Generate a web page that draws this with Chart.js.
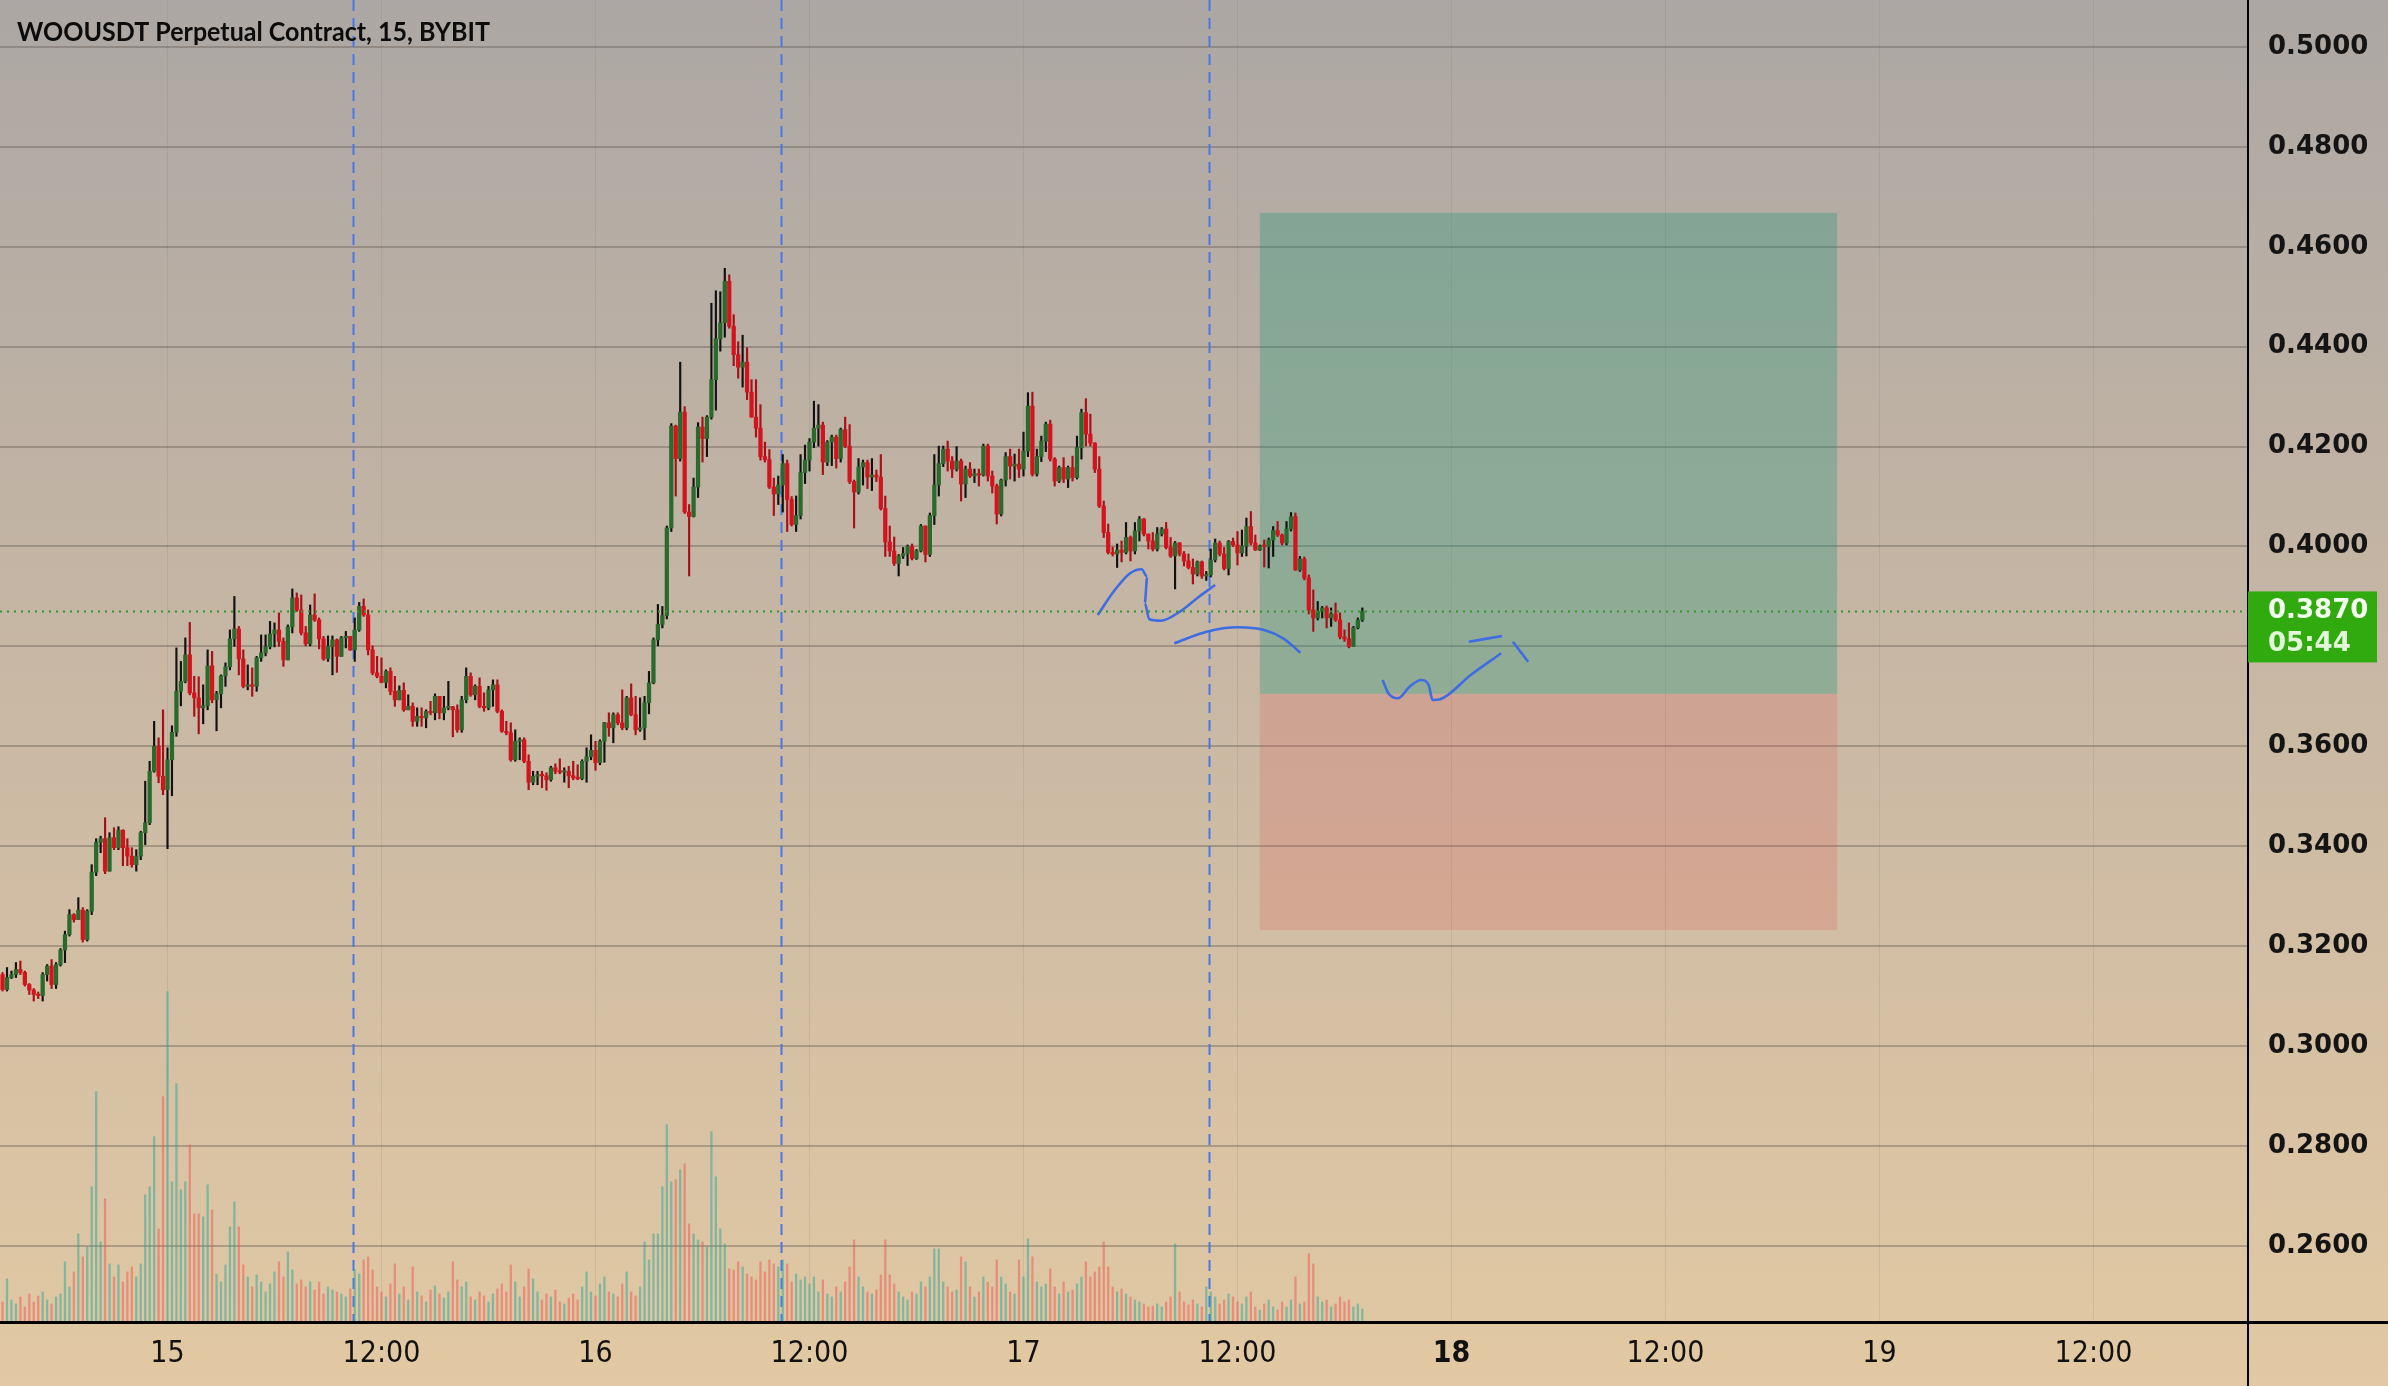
<!DOCTYPE html>
<html><head><meta charset="utf-8">
<script src="https://cdn.jsdelivr.net/npm/chart.js@4.4.1/dist/chart.umd.min.js"></script>
<style>html,body{margin:0;padding:0;background:#d2bea2;}canvas{display:block;}</style>
</head><body>
<canvas id="c" width="2388" height="1386"></canvas>
<script>
// ---------------- DATA ----------------
const chartTitle = 'WOOUSDT Perpetual Contract, 15, BYBIT';
const firstCandleHour = -9.25;   // 14th 14:45, hours relative to the 15th 00:00
const candleHours = 0.25;        // 15-minute candles
const firstOpen = 0.3143;
const closes = [
0.3113,0.3137,0.3143,0.3153,0.3147,0.3123,0.3112,0.3103,0.3101,0.3143,
0.3160,0.3123,0.3163,0.3192,0.3223,0.3263,0.3253,0.3272,0.3213,0.3270,
0.3348,0.3408,0.3415,0.3350,0.3417,0.3397,0.3432,0.3397,0.3380,0.3363,
0.3380,0.3427,0.3447,0.3550,0.3600,0.3540,0.3513,0.3573,0.3628,0.3710,
0.3730,0.3783,0.3707,0.3697,0.3677,0.3681,0.3761,0.3693,0.3705,0.3741,
0.3759,0.3815,0.3835,0.3775,0.3720,0.3723,0.3720,0.3777,0.3787,0.3799,
0.3825,0.3833,0.3810,0.3773,0.3839,0.3897,0.3873,0.3827,0.3805,0.3863,
0.3853,0.3815,0.3775,0.3800,0.3813,0.3780,0.3817,0.3820,0.3793,0.3833,
0.3880,0.3863,0.3793,0.3747,0.3740,0.3728,0.3750,0.3710,0.3693,0.3712,
0.3673,0.3680,0.3650,0.3660,0.3657,0.3670,0.3667,0.3700,0.3667,0.3677,
0.3679,0.3673,0.3633,0.3693,0.3740,0.3703,0.3720,0.3680,0.3677,0.3713,
0.3723,0.3670,0.3630,0.3627,0.3573,0.3610,0.3613,0.3570,0.3528,0.3540,
0.3542,0.3541,0.3533,0.3557,0.3550,0.3548,0.3550,0.3541,0.3537,0.3535,
0.3570,0.3579,0.3592,0.3567,0.3610,0.3647,0.3637,0.3663,0.3647,0.3637,
0.3697,0.3663,0.3633,0.3637,0.3687,0.3727,0.3813,0.3844,0.3862,0.4037,
0.4241,0.4176,0.4269,0.4069,0.4060,0.4119,0.4239,0.4216,0.4259,0.4334,
0.4416,0.4448,0.4531,0.4441,0.4384,0.4359,0.4369,0.4309,0.4259,0.4237,
0.4180,0.4174,0.4119,0.4105,0.4123,0.4166,0.4094,0.4044,0.4062,0.4148,
0.4173,0.4209,0.4237,0.4243,0.4169,0.4209,0.4219,0.4176,0.4234,0.4201,
0.4130,0.4109,0.4159,0.4168,0.4139,0.4143,0.4139,0.4076,0.4009,0.3991,
0.3966,0.3981,0.3986,0.4000,0.3976,0.3991,0.4041,0.3984,0.4062,0.4123,
0.4166,0.4195,0.4171,0.4155,0.4171,0.4125,0.4155,0.4141,0.4146,0.4143,
0.4201,0.4141,0.4121,0.4065,0.4133,0.4180,0.4161,0.4165,0.4155,0.4191,
0.4281,0.4145,0.4180,0.4211,0.4245,0.4175,0.4131,0.4158,0.4135,0.4158,
0.4138,0.4198,0.4268,0.4225,0.4207,0.4155,0.4081,0.4028,0.3988,0.3985,
0.3993,0.3988,0.4018,0.3991,0.4031,0.4055,0.4025,0.4011,0.3995,0.4025,
0.4035,0.3998,0.3981,0.4007,0.3985,0.3971,0.3958,0.3945,0.3969,0.3941,
0.3943,0.3973,0.4007,0.3985,0.3956,0.4010,0.4003,0.3987,0.4001,0.4040,
0.4007,0.3993,0.4001,0.4000,0.4013,0.4032,0.4023,0.4007,0.4035,0.4060,
0.3953,0.3975,0.3937,0.3873,0.3857,0.3870,0.3877,0.3857,0.3865,0.3853,
0.3819,0.3815,0.3800,0.3837,0.3853,0.3870];
const highs = [
0.3147,0.3157,0.3150,0.3167,0.3170,0.3150,0.3125,0.3115,0.3108,0.3147,
0.3163,0.3173,0.3167,0.3195,0.3230,0.3273,0.3265,0.3297,0.3277,0.3273,
0.3363,0.3415,0.3420,0.3457,0.3427,0.3437,0.3439,0.3433,0.3415,0.3397,
0.3393,0.3430,0.3530,0.3570,0.3650,0.3617,0.3673,0.3597,0.3641,0.3797,
0.3770,0.3817,0.3848,0.3740,0.3739,0.3723,0.3793,0.3790,0.3710,0.3743,
0.3767,0.3833,0.3900,0.3840,0.3793,0.3763,0.3757,0.3780,0.3823,0.3823,
0.3850,0.3847,0.3867,0.3817,0.3843,0.3915,0.3907,0.3903,0.3840,0.3883,
0.3905,0.3857,0.3820,0.3821,0.3821,0.3815,0.3820,0.3830,0.3820,0.3857,
0.3888,0.3895,0.3873,0.3801,0.3780,0.3777,0.3753,0.3757,0.3740,0.3721,
0.3727,0.3703,0.3687,0.3677,0.3677,0.3673,0.3690,0.3705,0.3700,0.3700,
0.3730,0.3680,0.3683,0.3700,0.3757,0.3747,0.3723,0.3737,0.3707,0.3720,
0.3733,0.3733,0.3673,0.3650,0.3647,0.3633,0.3617,0.3617,0.3583,0.3550,
0.3550,0.3550,0.3547,0.3560,0.3565,0.3575,0.3557,0.3560,0.3570,0.3563,
0.3573,0.3597,0.3623,0.3610,0.3613,0.3648,0.3667,0.3667,0.3667,0.3713,
0.3700,0.3725,0.3700,0.3697,0.3700,0.3750,0.3817,0.3884,0.3880,0.4041,
0.4246,0.4243,0.4369,0.4280,0.4084,0.4137,0.4248,0.4259,0.4262,0.4487,
0.4512,0.4510,0.4557,0.4544,0.4464,0.4410,0.4423,0.4398,0.4334,0.4334,
0.4284,0.4209,0.4194,0.4137,0.4141,0.4184,0.4173,0.4100,0.4101,0.4184,
0.4203,0.4216,0.4291,0.4284,0.4249,0.4212,0.4223,0.4223,0.4237,0.4259,
0.4244,0.4133,0.4176,0.4173,0.4173,0.4176,0.4153,0.4184,0.4101,0.4041,
0.4019,0.3984,0.3998,0.4003,0.4005,0.3994,0.4044,0.4039,0.4067,0.4184,
0.4201,0.4201,0.4211,0.4180,0.4200,0.4175,0.4161,0.4168,0.4155,0.4155,
0.4205,0.4205,0.4151,0.4125,0.4135,0.4188,0.4195,0.4185,0.4195,0.4229,
0.4308,0.4309,0.4195,0.4221,0.4249,0.4253,0.4178,0.4161,0.4178,0.4161,
0.4181,0.4221,0.4275,0.4296,0.4265,0.4208,0.4180,0.4091,0.4045,0.3999,
0.4005,0.4011,0.4048,0.4021,0.4048,0.4060,0.4056,0.4025,0.4028,0.4038,
0.4038,0.4048,0.4018,0.4010,0.4008,0.3990,0.3985,0.3975,0.3971,0.3971,
0.3950,0.3995,0.4015,0.4011,0.3998,0.4012,0.4017,0.4030,0.4033,0.4057,
0.4070,0.4023,0.4003,0.4013,0.4017,0.4040,0.4050,0.4025,0.4050,0.4068,
0.4067,0.3980,0.3979,0.3943,0.3913,0.3890,0.3880,0.3881,0.3877,0.3887,
0.3867,0.3833,0.3847,0.3840,0.3857,0.3877];
const lows = [
0.3110,0.3110,0.3135,0.3137,0.3143,0.3120,0.3103,0.3090,0.3095,0.3090,
0.3130,0.3115,0.3115,0.3160,0.3167,0.3220,0.3248,0.3253,0.3208,0.3210,
0.3263,0.3341,0.3387,0.3345,0.3350,0.3393,0.3393,0.3361,0.3361,0.3358,
0.3350,0.3373,0.3403,0.3443,0.3548,0.3527,0.3503,0.3395,0.3501,0.3620,
0.3681,0.3727,0.3703,0.3660,0.3625,0.3645,0.3673,0.3687,0.3631,0.3677,
0.3720,0.3753,0.3800,0.3743,0.3717,0.3713,0.3700,0.3710,0.3770,0.3781,
0.3795,0.3799,0.3800,0.3760,0.3773,0.3827,0.3870,0.3823,0.3801,0.3801,
0.3850,0.3795,0.3772,0.3770,0.3743,0.3748,0.3780,0.3797,0.3792,0.3770,
0.3830,0.3860,0.3783,0.3743,0.3737,0.3727,0.3717,0.3703,0.3680,0.3697,
0.3670,0.3673,0.3640,0.3640,0.3640,0.3637,0.3663,0.3653,0.3655,0.3653,
0.3673,0.3619,0.3628,0.3628,0.3687,0.3700,0.3693,0.3677,0.3670,0.3673,
0.3680,0.3667,0.3628,0.3623,0.3570,0.3570,0.3573,0.3567,0.3513,0.3523,
0.3523,0.3517,0.3512,0.3530,0.3545,0.3545,0.3528,0.3517,0.3533,0.3533,
0.3533,0.3528,0.3573,0.3552,0.3563,0.3568,0.3620,0.3607,0.3643,0.3633,
0.3633,0.3661,0.3623,0.3630,0.3613,0.3665,0.3725,0.3801,0.3837,0.3855,
0.4030,0.4101,0.4171,0.4066,0.3941,0.4059,0.4098,0.4169,0.4180,0.4255,
0.4273,0.4391,0.4419,0.4437,0.4362,0.4337,0.4319,0.4294,0.4259,0.4219,
0.4173,0.4169,0.4116,0.4062,0.4084,0.4069,0.4030,0.4041,0.4030,0.4055,
0.4126,0.4151,0.4198,0.4201,0.4144,0.4162,0.4162,0.4157,0.4169,0.4198,
0.4126,0.4037,0.4105,0.4123,0.4116,0.4112,0.4130,0.4073,0.3980,0.3980,
0.3962,0.3941,0.3976,0.3962,0.3973,0.3974,0.3989,0.3969,0.3980,0.4044,
0.4101,0.4160,0.4151,0.4138,0.4151,0.4091,0.4098,0.4138,0.4128,0.4121,
0.4141,0.4131,0.4107,0.4045,0.4061,0.4121,0.4135,0.4131,0.4138,0.4141,
0.4180,0.4141,0.4141,0.4170,0.4190,0.4171,0.4121,0.4128,0.4128,0.4118,
0.4131,0.4135,0.4175,0.4201,0.4201,0.4148,0.4078,0.4018,0.3985,0.3981,
0.3958,0.3969,0.3985,0.3971,0.3985,0.4011,0.4021,0.3995,0.3991,0.3991,
0.4021,0.3995,0.3978,0.3915,0.3981,0.3961,0.3955,0.3925,0.3941,0.3936,
0.3932,0.3939,0.3969,0.3981,0.3953,0.3943,0.4000,0.3963,0.3980,0.3981,
0.4003,0.3992,0.3992,0.3959,0.3957,0.3980,0.4020,0.4003,0.4003,0.4031,
0.3952,0.3950,0.3933,0.3865,0.3830,0.3853,0.3857,0.3837,0.3840,0.3850,
0.3815,0.3810,0.3797,0.3800,0.3835,0.3850];
const volumes = [ // thousands
20,43,22,18,25,15,28,20,26,30,
22,18,25,28,60,35,50,88,65,75,
135,230,80,123,58,45,57,40,50,55,
45,58,127,135,185,93,225,330,140,238,
132,140,177,108,108,105,137,112,48,40,
57,95,120,95,57,45,35,47,40,30,
38,50,60,45,70,52,38,42,35,40,
32,40,28,35,32,30,28,25,33,52,
48,62,65,52,35,30,25,38,58,28,
35,22,55,30,26,20,32,36,28,24,
30,60,42,35,40,25,22,30,26,20,
28,33,38,30,57,40,25,35,53,43,
30,22,28,25,32,20,18,24,28,22,
35,50,30,26,38,45,30,28,25,38,
50,30,26,35,80,62,88,88,135,197,
140,142,152,158,98,88,82,80,75,190,
145,93,78,53,52,60,55,48,45,42,
60,50,62,58,55,62,58,40,48,42,
45,38,45,30,42,28,25,35,30,40,
55,82,45,35,30,28,32,47,82,47,
38,30,25,22,30,28,40,35,45,73,
73,40,35,30,32,65,60,35,25,30,
45,40,35,62,45,38,30,28,62,45,
83,65,40,35,38,53,35,28,40,30,
32,38,45,60,45,50,55,80,55,35,
30,33,28,25,22,20,18,15,16,18,
15,20,25,78,30,20,17,22,18,15,
35,30,25,18,22,28,25,20,18,25,
30,15,12,18,22,15,12,20,15,22,
45,18,20,68,58,25,20,22,15,18,
25,20,22,15,18,13];
const xTickHours  = [0, 12, 24, 36, 48, 60, 72, 84, 96, 108];
const xTickLabels = ['15','12:00','16','12:00','17','12:00','18','12:00','19','12:00'];
const boldTickHour = 72;
const priceTicks = [0.26,0.28,0.30,0.32,0.34,0.36,0.38,0.40,0.42,0.44,0.46,0.48,0.50];
const priceMin = 0.24474, priceMax = 0.50941;
const hourMin = -9.3926, hourMax = 116.665;
const lastPrice = 0.3870, countdownText = '05:44';
const longEntry = 0.3705, takeProfit = 0.4668, stopLoss = 0.3232;
const zoneStartHour = 61.25, zoneEndHour = 93.625;
const sessionLineHours = [10.4, 34.4, 58.4];
const sketchStrokes = [
  [[52.16,0.38629],[53.12,0.39129],[53.98,0.39463],[54.62,0.39543],[54.94,0.39395],[54.80,0.38863],[55.06,0.38542],[55.70,0.38514],[56.77,0.38695],[57.84,0.38995],[58.75,0.39229]],
  [[56.45,0.38062],[58.27,0.38294],[59.99,0.38382],[61.49,0.38328],[62.56,0.38162],[63.53,0.37874]],
  [[68.14,0.37327],[68.46,0.37061],[69.00,0.36961],[69.65,0.37193],[70.29,0.37327],[70.72,0.37227],[70.94,0.36927],[71.36,0.36941],[73.08,0.37427],[74.79,0.37862]],
  [[72.97,0.38094],[74.84,0.38208]],
  [[75.44,0.38094],[76.30,0.37694]]
];

// ---------------- BUILD ----------------
const n = Math.min(closes.length, highs.length, lows.length, volumes.length);
const hours = [], opens = [];
for (let i = 0; i < n; i++) {
  hours.push(firstCandleHour + i * candleHours);
  opens.push(i === 0 ? firstOpen : closes[i - 1]);
}
const isUp = opens.map((o, i) => closes[i] >= o);
const UP_BODY = '#2a6a2d', DN_BODY = '#d3141d', UP_WICK = '#111111', DN_WICK = '#a90f17';
const VOL_UP = 'rgba(38,166,154,0.5)', VOL_DN = 'rgba(239,83,80,0.5)';

const wickData = hours.map((h, i) => ({x: h, y: [Math.min(lows[i], opens[i], closes[i]), Math.max(highs[i], opens[i], closes[i])]}));
const bodyData = hours.map((h, i) => ({x: h, y: [opens[i], closes[i]]}));
const volData = hours.map((h, i) => ({x: h, y: volumes[i]}));
const maxVol = Math.max(...volumes.slice(0, n));

const sketchSets = sketchStrokes.map(s => ({
  type: 'line', yAxisID: 'y', order: 1,
  data: s.map(p => ({x: p[0], y: p[1]})),
  borderColor: 'rgb(62,108,226)', borderWidth: 2.6, tension: 0.4,
  pointRadius: 0, fill: false, cubicInterpolationMode: 'monotone'
}));

const bgPlugin = {
  id: 'bg',
  beforeDraw(chart) {
    const c = chart.ctx, W = chart.width, H = chart.height;
    const g = c.createLinearGradient(0, 0, 0, H);
    g.addColorStop(0, '#aca7a4');
    g.addColorStop(0.45, '#c6b6a4');
    g.addColorStop(1, '#e2c9a3');
    c.save(); c.fillStyle = g; c.fillRect(0, 0, W, H); c.restore();
  }
};

const overlayPlugin = {
  id: 'overlay',
  beforeDatasetsDraw(chart) {
    const c = chart.ctx, a = chart.chartArea, x = chart.scales.x, y = chart.scales.y;
    c.save();
    c.beginPath(); c.rect(a.left, a.top, a.right - a.left, a.bottom - a.top); c.clip();
    const x0 = x.getPixelForValue(zoneStartHour), x1 = x.getPixelForValue(zoneEndHour);
    const yT = y.getPixelForValue(takeProfit), yE = y.getPixelForValue(longEntry), yS = y.getPixelForValue(stopLoss);
    c.fillStyle = 'rgba(20,150,120,0.30)';
    c.fillRect(x0, yT, x1 - x0, yE - yT);
    c.fillStyle = 'rgba(230,75,75,0.19)';
    c.fillRect(x0, yE, x1 - x0, yS - yE);
    // session separators
    c.strokeStyle = 'rgb(70,120,235)'; c.lineWidth = 2; c.setLineDash([11, 7]);
    sessionLineHours.forEach(h => {
      const px = Math.round(x.getPixelForValue(h)) + 0.5;
      c.beginPath(); c.moveTo(px, a.top); c.lineTo(px, a.bottom); c.stroke();
    });
    c.restore();
  },
  afterDatasetsDraw(chart) {
    const c = chart.ctx, a = chart.chartArea, y = chart.scales.y;
    const py = Math.round(y.getPixelForValue(lastPrice)) + 0.5;
    c.save();
    c.strokeStyle = 'rgb(50,150,40)'; c.lineWidth = 1.8; c.setLineDash([2, 5]);
    c.beginPath(); c.moveTo(a.left, py); c.lineTo(a.right, py); c.stroke();
    c.restore();
  },
  afterDraw(chart) {
    const c = chart.ctx, a = chart.chartArea, y = chart.scales.y;
    c.save();
    c.fillStyle = '#000';
    c.fillRect(0, a.bottom - 1, chart.width, 3);
    c.fillRect(a.right - 1, 0, 2, chart.height);
    const py = y.getPixelForValue(lastPrice);
    c.fillStyle = '#31aa10';
    c.fillRect(a.right, py - 20, 129, 71);
    c.fillStyle = '#f4fff0';
    c.font = 'bold 26px "DejaVu Sans"';
    c.textBaseline = 'middle'; c.textAlign = 'left';
    c.fillText(lastPrice.toFixed(4), a.right + 20, py);
    c.fillStyle = '#e2f7da';
    c.fillText(countdownText, a.right + 20, py + 33);
    c.fillStyle = '#0c0c0c';
    c.font = 'bold 26px Lato';
    c.textBaseline = 'alphabetic';
    c.fillText(chartTitle, 17, 41, 473);
    c.restore();
  }
};

new Chart(document.getElementById('c'), {
  type: 'bar',
  data: {
    datasets: [
      ...sketchSets,
      { type: 'bar', label: 'body', yAxisID: 'y', order: 2, grouped: false,
        data: bodyData, barThickness: 3.6, minBarLength: 1.5,
        backgroundColor: isUp.map(u => u ? UP_BODY : DN_BODY) },
      { type: 'bar', label: 'wick', yAxisID: 'y', order: 3, grouped: false,
        data: wickData, barThickness: 1.5,
        backgroundColor: isUp.map(u => u ? UP_WICK : DN_WICK) },
      { type: 'bar', label: 'volume', yAxisID: 'yv', order: 4, grouped: false,
        data: volData, barThickness: 1.6,
        backgroundColor: isUp.map(u => u ? VOL_UP : VOL_DN) }
    ]
  },
  options: {
    responsive: false, animation: false, devicePixelRatio: 1,
    layout: { padding: 0, autoPadding: false },
    plugins: { legend: { display: false }, tooltip: { enabled: false }, title: { display: false } },
    scales: {
      x: {
        type: 'linear', position: 'bottom', min: hourMin, max: hourMax, offset: false,
        afterBuildTicks: s => { s.ticks = xTickHours.map(v => ({value: v})); },
        afterFit: s => { s.height = 64; s.paddingLeft = 0; s.paddingRight = 0; },
        ticks: {
          autoSkip: false, maxRotation: 0, padding: 14, color: '#111',
          callback: v => { const i = xTickHours.indexOf(v); return i >= 0 ? xTickLabels[i] : ''; },
          font: ctx => ({ family: '"DejaVu Sans Condensed", "DejaVu Sans"', size: 30,
                          weight: (ctx.tick && ctx.tick.value === boldTickHour) ? 'bold' : 'normal' })
        },
        grid: { color: 'rgba(120,110,100,0.16)', lineWidth: 1, drawTicks: false, offset: false },
        border: { display: true, color: '#000', width: 3 }
      },
      y: {
        type: 'linear', position: 'right', min: priceMin, max: priceMax,
        afterBuildTicks: s => { s.ticks = priceTicks.map(v => ({value: v})); },
        afterFit: s => { s.width = 140; s.paddingTop = 0; s.paddingBottom = 0; },
        ticks: {
          padding: 20, color: '#141414',
          callback: v => Number(v).toFixed(4),
          font: { family: '"DejaVu Sans"', size: 26, weight: 'bold' }
        },
        grid: { color: 'rgba(105,95,88,0.42)', lineWidth: 2, drawTicks: false },
        border: { display: true, color: '#000', width: 2 }
      },
      yv: {
        type: 'linear', display: false, min: 0, max: maxVol * 4.0,
        grid: { display: false }
      }
    }
  },
  plugins: [bgPlugin, overlayPlugin]
});
</script>
</body></html>
